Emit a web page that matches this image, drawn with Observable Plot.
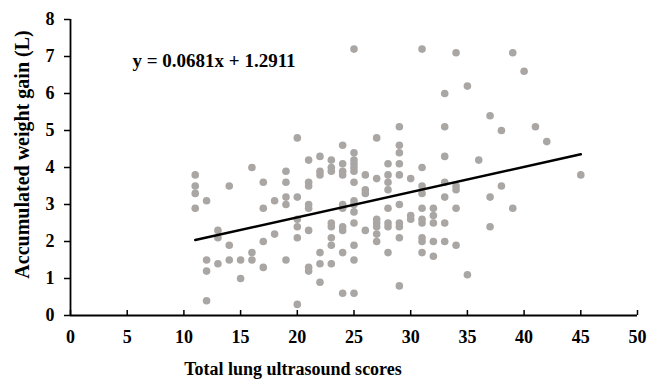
<!DOCTYPE html>
<html>
<head>
<meta charset="utf-8">
<script src="https://cdn.jsdelivr.net/npm/d3@7"></script>
<script src="https://cdn.jsdelivr.net/npm/@observablehq/plot@0.6"></script>
<style>
  body { margin: 0; background: #fff; }
  #chart svg { font-family: "Liberation Serif", "Times New Roman", serif; font-weight: bold; }
</style>
</head>
<body>
<div id="chart"></div>
<script>
// Total lung ultrasound score (x) and the accumulated weight gains (L) observed at that score
const scores = [11, 12, 13, 14, 15, 16, 17, 18, 19, 20, 21, 22, 23, 24, 25, 26, 27, 28, 29, 30, 31, 32, 33, 34, 35, 36, 37, 38, 39, 40, 41, 42, 45];
const gainsByScore = [
  [3.8, 3.5, 3.3, 2.9],
  [3.1, 1.5, 1.2, 0.4],
  [2.3, 2.1, 1.4],
  [3.5, 1.9, 1.5],
  [1.5, 1.0],
  [4.0, 1.7, 1.5],
  [3.6, 2.9, 2.0, 1.3],
  [3.1, 2.2],
  [3.9, 3.6, 3.2, 3.0, 1.5],
  [4.8, 3.2, 2.6, 2.4, 2.1, 0.3],
  [4.2, 3.6, 3.5, 3.0, 2.9, 2.3, 1.3, 1.2],
  [4.3, 3.9, 3.8, 1.7, 1.4, 0.9],
  [4.2, 4.0, 3.9, 2.5, 2.4, 2.1, 1.9, 1.4],
  [4.6, 4.1, 3.9, 3.8, 3.0, 2.9, 2.4, 2.3, 1.7, 0.6],
  [7.2, 4.4, 4.2, 4.1, 4.0, 3.9, 3.6, 3.1, 3.0, 2.8, 2.5, 1.9, 1.5, 0.6],
  [3.8, 3.4, 3.3, 2.3],
  [4.8, 3.7, 2.6, 2.5, 2.4, 2.2, 2.0],
  [4.1, 3.8, 3.6, 3.4, 2.9, 2.5, 2.4, 1.7],
  [5.1, 4.6, 4.4, 4.1, 3.8, 3.0, 2.5, 2.4, 2.1, 0.8],
  [3.7, 2.7, 2.6],
  [7.2, 4.0, 3.5, 3.3, 2.9, 2.6, 2.5, 2.1, 2.0, 1.7],
  [2.9, 2.7, 2.5, 2.0, 1.6],
  [6.0, 5.1, 4.3, 3.6, 3.2, 2.5, 2.0],
  [7.1, 3.5, 3.4, 2.9, 1.9],
  [6.2, 1.1],
  [4.2],
  [5.4, 3.2, 2.4],
  [5.0, 3.5],
  [7.1, 2.9],
  [6.6],
  [5.1],
  [4.7],
  [3.8]
];

// Linear trend line from the chart's equation
const slope = 0.0681;
const intercept = 1.2911;
const trendRange = [11, 45];
const equationLabel = "y = 0.0681x + 1.2911";

const xTicks = [0, 5, 10, 15, 20, 25, 30, 35, 40, 45, 50];
const yTicks = [0, 1, 2, 3, 4, 5, 6, 7, 8];
const xTitle = "Total lung ultrasound scores";
const yTitle = "Accumulated weight gain (L)";

const points = scores.flatMap((s, i) => gainsByScore[i].map(g => ({score: s, gain: g})));
const trend = trendRange.map(x => ({score: x, gain: slope * x + intercept}));

const chart = Plot.plot({
  width: 647,
  height: 381,
  marginLeft: 70,
  marginRight: 10,
  marginTop: 19,
  marginBottom: 66,
  style: {background: "#fff", color: "#000", fontSize: "16px"},
  x: {domain: [0, 50]},
  y: {domain: [0, 8]},
  marks: [
    Plot.dot(points, {x: "score", y: "gain", r: 3.8, fill: "#aaa6a4", stroke: "none"}),
    Plot.line(trend, {x: "score", y: "gain", stroke: "#000", strokeWidth: 2.5}),
    Plot.ruleX(xTicks, {x: d => d, y1: 0, y2: 0, insetBottom: 5, stroke: "#000", strokeWidth: 1.5}),
    Plot.ruleY([0], {stroke: "#000", strokeWidth: 1.8}),
    Plot.ruleX([0], {stroke: "#000", strokeWidth: 1.8}),
    Plot.axisX({ticks: xTicks, tickSize: 0, tickPadding: 15, label: null, fontSize: 18, fontWeight: "bold"}),
    Plot.axisY({ticks: yTicks, tickSize: 6, tickPadding: 10, label: null, fontSize: 18, fontWeight: "bold", strokeWidth: 1.5}),
    Plot.text([xTitle], {frameAnchor: "bottom", dx: -61, dy: 59, fontSize: 18, fontWeight: "bold", text: d => d}),
    Plot.text([yTitle], {frameAnchor: "left", textAnchor: "middle", dx: -48, dy: -13, rotate: -90, fontSize: 20, fontWeight: "bold", text: d => d}),
    Plot.text([equationLabel], {frameAnchor: "top-left", dx: 62, dy: 34, textAnchor: "start", fontSize: 19, fontWeight: "bold", text: d => d})
  ]
});
document.getElementById("chart").appendChild(chart);
</script>
</body>
</html>
